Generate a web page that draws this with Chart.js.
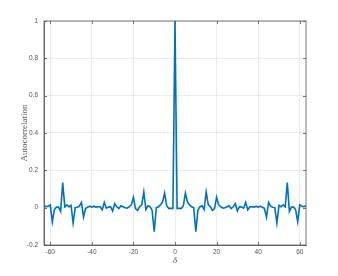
<!DOCTYPE html>
<html><head><meta charset="utf-8">
<script src="https://cdn.jsdelivr.net/npm/chart.js@4/dist/chart.umd.min.js"></script>
<style>html,body{margin:0;padding:0;background:#fff}#wrap{width:338px;height:276px;position:relative}</style>
</head><body><div id="wrap"><canvas id="c" width="338" height="276"></canvas></div>
<script>
const lags = [-63,-62,-61,-60,-59,-58,-57,-56,-55,-54,-53,-52,-51,-50,-49,-48,-47,-46,-45,-44,-43,-42,-41,-40,-39,-38,-37,-36,-35,-34,-33,-32,-31,-30,-29,-28,-27,-26,-25,-24,-23,-22,-21,-20,-19,-18,-17,-16,-15,-14,-13,-12,-11,-10,-9,-8,-7,-6,-5,-4,-3,-2,-1,0,1,2,3,4,5,6,7,8,9,10,11,12,13,14,15,16,17,18,19,20,21,22,23,24,25,26,27,28,29,30,31,32,33,34,35,36,37,38,39,40,41,42,43,44,45,46,47,48,49,50,51,52,53,54,55,56,57,58,59,60,61,62,63];
// autocorrelation for lags -63 .. -1
const autocorrNeg = [0.010,0.005,0.008,0.015,-0.075,-0.010,0.003,0.003,-0.020,0.134,0.005,0.015,0.005,0.012,-0.082,0.000,0.002,0.008,0.028,-0.050,-0.005,0.003,0.008,0.003,0.008,0.003,0.005,0.005,-0.012,0.028,-0.003,0.003,0.005,-0.018,0.022,0.005,-0.005,0.010,0.005,0.000,-0.003,0.005,0.015,0.055,-0.005,-0.015,0.005,0.015,0.084,-0.010,0.010,0.005,-0.015,-0.128,0.000,0.005,0.015,0.030,0.078,0.010,-0.005,-0.003,-0.005];
// lag 0
const autocorrZero = [1.0];
// autocorrelation for lags 1 .. 63
const autocorrPos = [-0.005,-0.003,-0.005,0.010,0.078,0.030,0.015,0.005,0.000,-0.128,-0.015,0.005,0.010,-0.010,0.084,0.015,0.005,-0.015,-0.005,0.055,0.015,0.005,-0.003,0.000,0.005,0.010,-0.005,0.005,0.022,-0.018,0.005,0.003,-0.003,0.028,-0.012,0.005,0.005,0.003,0.008,0.003,0.008,0.003,-0.005,-0.050,0.028,0.008,0.002,0.000,-0.082,0.012,0.005,0.015,0.005,0.134,-0.020,0.003,0.003,-0.010,-0.075,0.015,0.008,0.005,0.010];
const xTicks = [-60,-40,-20,0,20,40,60];
const yTicks = [-0.2,0,0.2,0.4,0.6,0.8,1];
const xLabel = 'δ';
const yLabel = 'Autocorrelation';

const values = autocorrNeg.concat(autocorrZero, autocorrPos);
const pts = lags.map((l,i)=>({x:l,y:values[i]}));

const AXIS = '#555555', GRID = '#e6e6e6', TXT = '#555555';

const boxPlugin = {
  id:'box',
  beforeDatasetsDraw(chart){
    const {ctx, chartArea:a, scales:{x,y}} = chart;
    ctx.save();
    ctx.strokeStyle = AXIS; ctx.lineWidth = 0.8;
    const L = 3;
    ctx.beginPath();
    xTicks.forEach(v=>{const px=Math.round(x.getPixelForValue(v))+0.5;
      ctx.moveTo(px,a.bottom); ctx.lineTo(px,a.bottom-L);
      ctx.moveTo(px,a.top); ctx.lineTo(px,a.top+L);});
    yTicks.forEach(v=>{const py=Math.round(y.getPixelForValue(v))+0.5;
      ctx.moveTo(a.left,py); ctx.lineTo(a.left+L,py);
      ctx.moveTo(a.right,py); ctx.lineTo(a.right-L,py);});
    ctx.stroke();
    ctx.restore();
  },
  afterDraw(chart){
    const {ctx, chartArea:a} = chart;
    ctx.save();
    ctx.strokeStyle = AXIS; ctx.lineWidth = 0.8;
    ctx.strokeRect(a.left, a.top, a.right-a.left, a.bottom-a.top);
    ctx.restore();
  }
};

new Chart(document.getElementById('c'), {
  type:'line',
  data:{datasets:[{data:pts, borderColor:'#0072BD', borderWidth:1.6, pointRadius:0, tension:0, fill:false}]},
  options:{
    responsive:false, animation:false, devicePixelRatio:1,
    layout:{padding:{top:21,right:32,left:0,bottom:0}},
    plugins:{legend:{display:false}, tooltip:{enabled:false}},
    scales:{
      x:{type:'linear', min:-63, max:63,
        afterBuildTicks(s){ s.ticks = xTicks.map(v=>({value:v})); },
        afterFit(s){ s.height = 31; },
        grid:{color:GRID, drawTicks:false, lineWidth:0.8},
        border:{display:true, color:AXIS, width:0.8},
        ticks:{font:{family:'Liberation Sans, Arial', size:6.5}, color:TXT, padding:3, maxRotation:0, callback:v=>String(v)},
        title:{display:true, text:xLabel, color:TXT, font:{family:'Liberation Serif, serif', size:9, style:'italic'}, padding:{top:9.5,bottom:9.5}}
      },
      y:{type:'linear', min:-0.2, max:1,
        afterBuildTicks(s){ s.ticks = yTicks.map(v=>({value:v})); },
        afterFit(s){ s.width = 44; },
        grid:{color:GRID, drawTicks:false, lineWidth:0.8},
        border:{display:true, color:AXIS, width:0.8},
        ticks:{font:{family:'Liberation Sans, Arial', size:6.5}, color:TXT, padding:6, callback:v=>String(Math.round(v*10)/10)},
        title:{display:true, text:yLabel, color:TXT, font:{family:'Liberation Serif, serif', size:9}, padding:{top:19.5,bottom:19.5}}
      }
    }
  },
  plugins:[boxPlugin]
});
</script></body></html>
